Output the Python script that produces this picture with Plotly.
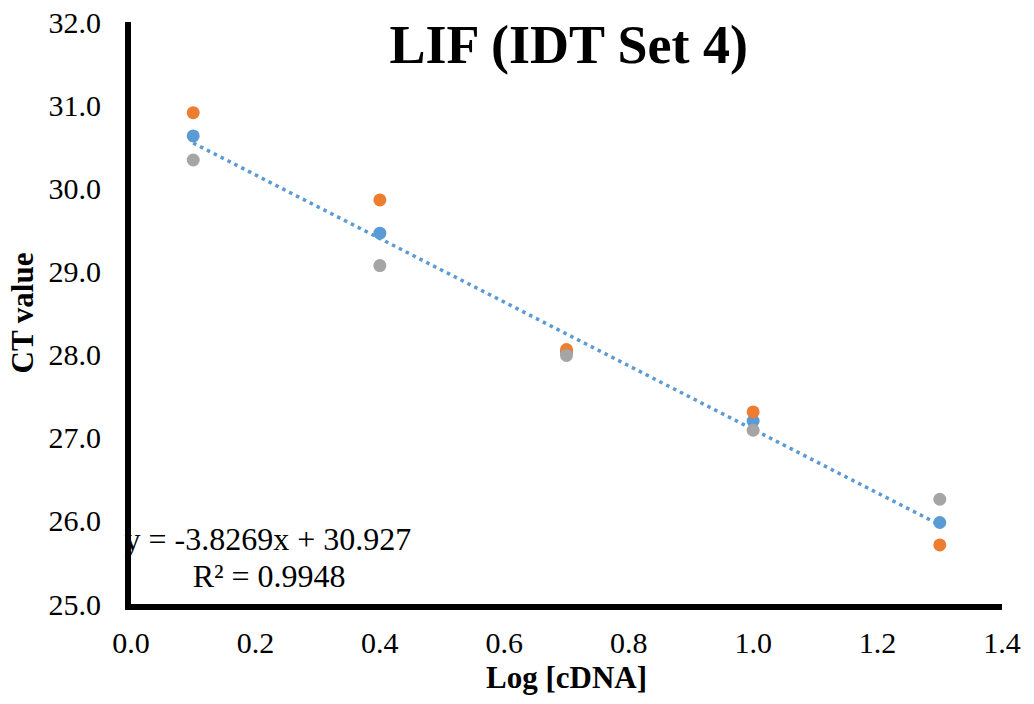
import plotly.graph_objects as go

log_cdna = [0.1, 0.4, 0.7, 1.0, 1.3]
ct_blue = [30.63, 29.46, 28.03, 27.20, 25.98]
ct_orange = [30.91, 29.86, 28.06, 27.31, 25.71]
ct_gray = [30.34, 29.07, 27.99, 27.09, 26.26]
slope, intercept = -3.8269, 30.927
fit_x = [min(log_cdna), max(log_cdna)]
fit_y = [slope * v + intercept for v in fit_x]
x_ticks = [0.0, 0.2, 0.4, 0.6, 0.8, 1.0, 1.2, 1.4]
y_ticks = [25, 26, 27, 28, 29, 30, 31, 32]

FONT = "Liberation Serif, Times New Roman, serif"

fig = go.Figure()
fig.add_trace(go.Scatter(x=fit_x, y=fit_y, mode="lines",
                         line=dict(color="#5B9BD5", width=3.5, dash="3.5px,4.2px"),
                         showlegend=False, hoverinfo="skip"))
for vals, col in [(ct_blue, "#5B9BD5"), (ct_orange, "#ED7D31"), (ct_gray, "#A5A5A5")]:
    fig.add_trace(go.Scatter(x=log_cdna, y=vals, mode="markers",
                             marker=dict(color=col, size=13), showlegend=False))

fig.add_trace(go.Scatter(x=[0.22], y=[25.74], mode="text",
                         text=["y = -3.8269x + 30.927"], textposition="middle center",
                         textfont=dict(family=FONT, size=32, color="black"),
                         cliponaxis=False, showlegend=False, hoverinfo="skip"))
fig.add_trace(go.Scatter(x=[0.222], y=[25.30], mode="text",
                         text=["R² = 0.9948"], textposition="middle center",
                         textfont=dict(family=FONT, size=32, color="black"),
                         cliponaxis=False, showlegend=False, hoverinfo="skip"))

fig.update_layout(
    width=1034, height=704,
    margin=dict(l=131, r=32, t=22, b=100, autoexpand=False),
    paper_bgcolor="white", plot_bgcolor="white",
    font=dict(family=FONT, color="black", size=30),
    title=dict(text="<b>LIF (IDT Set 4)</b>", x=0.55, xanchor="center",
               y=0.937, yanchor="middle", automargin=False,
               font=dict(family=FONT, size=54, color="black")),
    xaxis=dict(range=[0, 1.4], tickvals=x_ticks, ticktext=[f"{v:.1f}" for v in x_ticks],
               showgrid=False, zeroline=False, showline=True, linecolor="black", linewidth=6,
               ticks="", tickfont=dict(family=FONT, size=30), ticklabelstandoff=7, automargin=False,
               title=dict(text="<b>Log [cDNA]</b>", font=dict(family=FONT, size=31), standoff=10)),
    yaxis=dict(range=[25, 32], tickvals=y_ticks, ticktext=[f"{v:.1f}" for v in y_ticks],
               showgrid=False, zeroline=False, showline=True, linecolor="black", linewidth=6,
               ticks="", tickfont=dict(family=FONT, size=30), ticklabelstandoff=18, automargin=False,
               title=dict(text="<b>CT value</b>", font=dict(family=FONT, size=31), standoff=8)),
)
fig.write_html("out.html")
